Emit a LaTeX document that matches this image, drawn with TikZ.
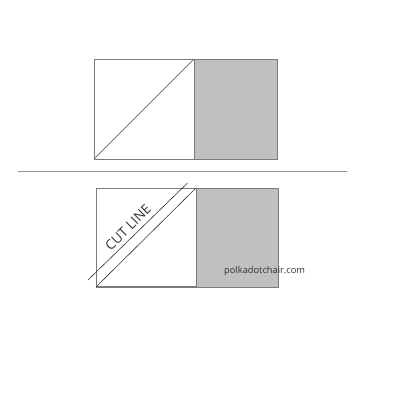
\documentclass[tikz,border=0pt]{standalone}
\usepackage{fontspec}
\setmainfont{Open Sans}
\definecolor{edge}{HTML}{7A7A7A}
\definecolor{shade}{HTML}{C0C0C0}
\definecolor{ink}{HTML}{333333}
\begin{document}
\begin{tikzpicture}[x=1pt,y=-1pt,
  block/.style={draw=edge,line width=0.9pt},
  gray block/.style={block,fill=shade},
  rule/.style={draw=edge!80,line width=1pt},
  thin/.style={draw=ink,line width=0.6pt}]
\useasboundingbox (0,0) rectangle (400,400);
% top
\draw[gray block] (194,59) rectangle (277,159);
\draw[block] (94,59) rectangle (194,159);
\coordinate (tA) at (94,159);
\coordinate (tB) at (194,59);
\draw[block] (tA) -- (tB);
% separator
\coordinate (sL) at (18,171.5);
\coordinate (sR) at (347,171.5);
\draw[rule] (sL) -- (sR);
% bottom
\draw[gray block] (196,188) rectangle (278,287);
\draw[block] (96,188) rectangle (196,287);
\draw[edge,line width=1.4pt] (96,287) -- (196,287);
\coordinate (bA) at (96,287);
\coordinate (bB) at (196,188);
\draw[thin] (bA) -- (bB);
\coordinate (cA) at (88,280);
\coordinate (cB) at (187.5,183);
\draw[thin] (cA) -- (cB);
\node[rotate=45,text=ink,font=\fontsize{13.5}{13.5}\selectfont,inner sep=0pt] (cut) at (128,227.5) {CUT LINE};
\node[text=ink,font=\fontsize{9.3}{9.3}\selectfont,inner sep=0pt,anchor=base west] (site) at (224,273.3) {polkadotchair.com};
\end{tikzpicture}
\end{document}
